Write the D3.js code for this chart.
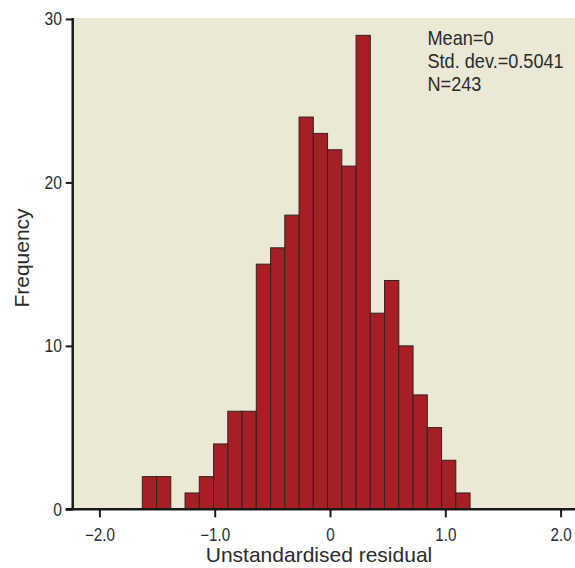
<!DOCTYPE html>
<html>
<head>
<meta charset="utf-8">
<script src="https://cdn.jsdelivr.net/npm/d3@7"></script>
<style>
  body { margin: 0; background: #fff; }
  text { font-family: "Liberation Sans", Arial, sans-serif; fill: #2b2b2b; }
</style>
</head>
<body>
<div id="chart"></div>
<script>
// histogram bins
var binStart = -1.628;
var binWidth = 0.1236;
var counts = [2, 2, 0, 1, 2, 4, 6, 6, 15, 16, 18, 24, 23, 22, 21, 29, 12, 14, 10, 7, 5, 3, 1];
var xTicks = [-2, -1, 0, 1, 2];
var yTicks = [0, 10, 20, 30];
var statsText = ['Mean=0', 'Std. dev.=0.5041', 'N=243'];

var width = 575, height = 568;
var tickScale = 0.87;   // squeeze to mimic the condensed face
var statScale = 0.93;

var svg = d3.select('#chart').append('svg')
  .attr('width', width)
  .attr('height', height);

var x = d3.scaleLinear().domain([-2, 2]).range([99.4, 560.6]);
var y = d3.scaleLinear().domain([0, 30]).range([509.3, 19]);

var plotLeft = 72.7, plotTop = 18;

// background panel
svg.append('rect')
  .attr('x', plotLeft)
  .attr('y', plotTop)
  .attr('width', width - plotLeft)
  .attr('height', y(0) - plotTop)
  .attr('fill', '#ebe8d6');

// bars
var bins = counts.map(function(c, i) {
  return { x0: binStart + i * binWidth, x1: binStart + (i + 1) * binWidth, n: c };
}).filter(function(d) { return d.n > 0; });

svg.selectAll('.bar')
  .data(bins)
  .enter()
  .append('rect')
    .attr('class', 'bar')
    .attr('x', function(d) { return x(d.x0); })
    .attr('y', function(d) { return y(d.n); })
    .attr('width', function(d) { return x(d.x1) - x(d.x0); })
    .attr('height', function(d) { return y(0) - y(d.n); })
    .attr('fill', '#a51f24')
    .attr('stroke', '#332224')
    .attr('stroke-width', 1);

// x axis
var xAxis = d3.axisBottom(x)
  .tickValues(xTicks)
  .tickSize(8)
  .tickFormat(function(d) { return d === 0 ? '0' : d3.format('.1f')(d).replace('-', '\u2013'); });

var gx = svg.append('g')
  .attr('transform', 'translate(0,' + y(0) + ')')
  .call(xAxis);
gx.select('.domain').remove();
gx.selectAll('line').attr('stroke', '#1a1a1a').attr('stroke-width', 2);
gx.selectAll('text')
  .style('font-size', '17.5px')
  .attr('y', 31.7)
  .attr('dy', 0)
  .attr('transform', 'scale(' + tickScale + ',1)');

svg.append('line')
  .attr('x1', plotLeft - 7).attr('x2', width)
  .attr('y1', y(0)).attr('y2', y(0))
  .attr('stroke', '#1a1a1a').attr('stroke-width', 2.5);

// y axis
var yAxis = d3.axisLeft(y)
  .tickValues(yTicks)
  .tickSize(7);

var gy = svg.append('g')
  .attr('transform', 'translate(' + plotLeft + ',0)')
  .call(yAxis);
gy.select('.domain').remove();
gy.selectAll('line').attr('stroke', '#1a1a1a').attr('stroke-width', 2);
gy.selectAll('text')
  .style('font-size', '18px')
  .attr('x', -10.7 / tickScale)
  .attr('transform', 'scale(' + tickScale + ',1)');

svg.append('line')
  .attr('x1', plotLeft).attr('x2', plotLeft)
  .attr('y1', plotTop).attr('y2', y(0) + 1)
  .attr('stroke', '#1a1a1a').attr('stroke-width', 2.5);

// axis titles
svg.append('text')
  .attr('x', 319)
  .attr('y', 562)
  .attr('text-anchor', 'middle')
  .style('font-size', '21px')
  .text('Unstandardised residual');

svg.append('text')
  .attr('transform', 'translate(29,258) rotate(-90)')
  .attr('text-anchor', 'middle')
  .style('font-size', '21px')
  .text('Frequency');

// stats box
svg.selectAll('.stat')
  .data(statsText)
  .enter()
  .append('text')
    .attr('class', 'stat')
    .attr('transform', function(d, i) {
      return 'translate(427.5,' + (45 + i * 22.8) + ') scale(' + statScale + ',1)';
    })
    .style('font-size', '19.5px')
    .text(function(d) { return d; });
</script>
</body>
</html>
